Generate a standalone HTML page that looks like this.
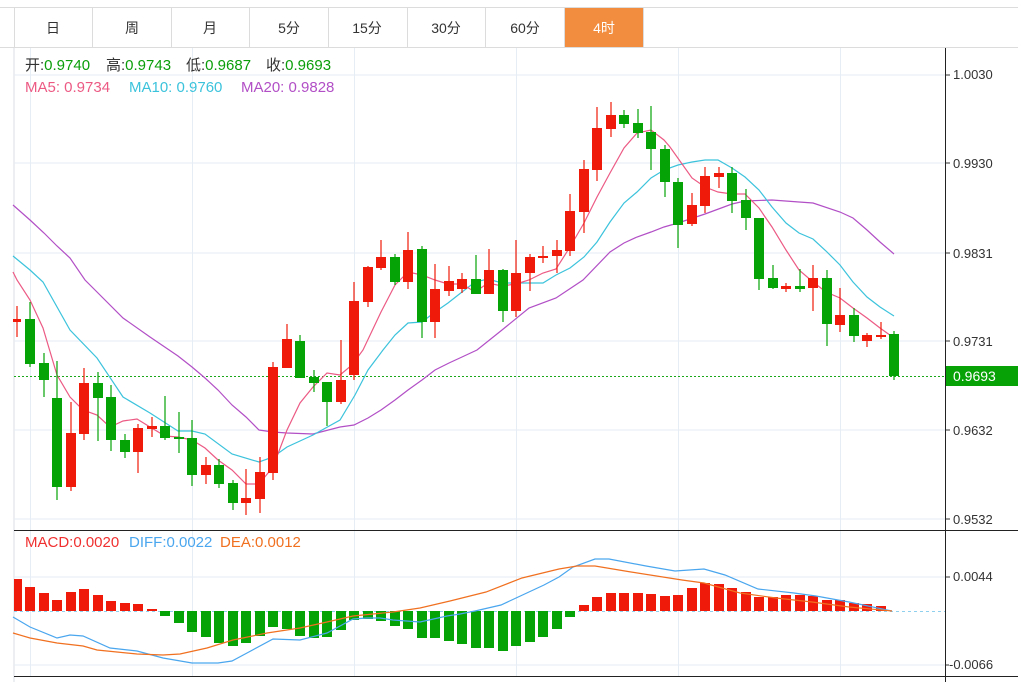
<!DOCTYPE html>
<html><head><meta charset="utf-8"><style>
html,body{margin:0;padding:0;background:#fff;}
body{width:1018px;height:682px;overflow:hidden;position:relative;font-family:"Liberation Sans","Noto Sans CJK SC",sans-serif;}
svg text{font-family:"Liberation Sans","Noto Sans CJK SC",sans-serif;}
</style></head><body>
<svg width="1018" height="682" viewBox="0 0 1018 682" xmlns="http://www.w3.org/2000/svg">
<line x1="0" y1="7.5" x2="1018" y2="7.5" stroke="#dcdcdc"/>
<line x1="0" y1="47.5" x2="1018" y2="47.5" stroke="#dcdcdc"/>
<g stroke="#dcdcdc">
<line x1="14.5" y1="7" x2="14.5" y2="48"/><line x1="92.5" y1="7" x2="92.5" y2="48"/><line x1="171.5" y1="7" x2="171.5" y2="48"/><line x1="249.5" y1="7" x2="249.5" y2="48"/><line x1="328.5" y1="7" x2="328.5" y2="48"/><line x1="407.5" y1="7" x2="407.5" y2="48"/><line x1="485.5" y1="7" x2="485.5" y2="48"/><line x1="564.5" y1="7" x2="564.5" y2="48"/><line x1="643.5" y1="7" x2="643.5" y2="48"/>
</g>
<rect x="565" y="8" width="78" height="39" fill="#f28c3e"/>
<g font-size="14" fill="#333" text-anchor="middle">
<text x="53" y="33">日</text><text x="132" y="33">周</text><text x="210" y="33">月</text><text x="289" y="33">5分</text><text x="367" y="33">15分</text><text x="446" y="33">30分</text><text x="525" y="33">60分</text><text x="604" y="33" fill="#fff">4时</text>
</g>
<line x1="14" y1="48" x2="14" y2="682" stroke="#d8dde3"/>
<g stroke="#e6edf4">
<line x1="14" y1="75" x2="945" y2="75"/><line x1="14" y1="163" x2="945" y2="163"/><line x1="14" y1="253" x2="945" y2="253"/><line x1="14" y1="341" x2="945" y2="341"/><line x1="14" y1="430" x2="945" y2="430"/><line x1="14" y1="519" x2="945" y2="519"/>
<line x1="14" y1="577" x2="945" y2="577"/><line x1="14" y1="665" x2="945" y2="665"/>
<line x1="30.5" y1="48" x2="30.5" y2="676"/><line x1="192.5" y1="48" x2="192.5" y2="676"/><line x1="354.5" y1="48" x2="354.5" y2="676"/><line x1="516.5" y1="48" x2="516.5" y2="676"/><line x1="678.5" y1="48" x2="678.5" y2="676"/><line x1="840.5" y1="48" x2="840.5" y2="676"/>
</g>
<line x1="14" y1="530.5" x2="1018" y2="530.5" stroke="#222"/>
<line x1="14" y1="676.5" x2="1018" y2="676.5" stroke="#222"/>
<line x1="945.5" y1="48" x2="945.5" y2="682" stroke="#222"/>
<g font-size="13" fill="#333">
<text x="953" y="79">1.0030</text><text x="953" y="168">0.9930</text><text x="953" y="258">0.9831</text><text x="953" y="346">0.9731</text><text x="953" y="435">0.9632</text><text x="953" y="524">0.9532</text>
<text x="953" y="581">0.0044</text><text x="949" y="669">-0.0066</text>
</g>
<g stroke="#333"><line x1="946" y1="75" x2="950" y2="75"/><line x1="946" y1="163" x2="950" y2="163"/><line x1="946" y1="253" x2="950" y2="253"/><line x1="946" y1="341" x2="950" y2="341"/><line x1="946" y1="430" x2="950" y2="430"/><line x1="946" y1="519" x2="950" y2="519"/><line x1="946" y1="577" x2="950" y2="577"/><line x1="946" y1="665" x2="949" y2="665"/></g>
<rect x="946" y="366" width="72" height="20" fill="#06a206"/>
<text x="953" y="381" font-size="14" fill="#fff">0.9693</text>
<line x1="14" y1="376.5" x2="945" y2="376.5" stroke="#1aa81a" stroke-dasharray="2,2"/>
<line x1="14" y1="611.5" x2="945" y2="611.5" stroke="#8fd0ee" stroke-dasharray="3,3"/>
<g font-size="15">
<text x="25" y="70" fill="#333">开:<tspan fill="#0a9e0a">0.9740</tspan></text>
<text x="106" y="70" fill="#333">高:<tspan fill="#0a9e0a">0.9743</tspan></text>
<text x="186" y="70" fill="#333">低:<tspan fill="#0a9e0a">0.9687</tspan></text>
<text x="266" y="70" fill="#333">收:<tspan fill="#0a9e0a">0.9693</tspan></text>
<text x="25" y="92" fill="#ec5a84">MA5: 0.9734</text>
<text x="129" y="92" fill="#3cc3dc">MA10: 0.9760</text>
<text x="241" y="92" fill="#b24fc6">MA20: 0.9828</text>
<text x="25" y="547" fill="#f03030">MACD:0.0020</text>
<text x="129" y="547" fill="#4aa6ee">DIFF:0.0022</text>
<text x="220" y="547" fill="#f07020">DEA:0.0012</text>
</g>
<g fill="none" stroke-width="1.2">
<polyline stroke="#b24fc6" points="13,205 30,220 44,233 57,246 70,258 85,280 97,292 123,318 150,337 178,356 192,367 205,378 218,390 232,405 246,417 259,430 273,432 287,433 313,434 340,427 354,425 368,418 381,410 395,400 408,390 422,380 435,370 449,363 462,357 477,350 502,330 529,308 556,298 583,280 610,252 624,243 637,237 651,232 664,227 678,223 705,214 732,204 745,201 772,200 799,202 813,203 840,212 853,218 867,230 880,242 894,254"/>
<polyline stroke="#3cc3dc" points="13,256 30,270 43,282 70,330 97,358 123,397 150,413 178,431 192,431 205,434 232,454 259,462 273,457 287,447 313,435 340,420 355,395 368,370 383,350 395,335 408,323 422,322 435,312 448,303 462,292 475,282 488,279 502,283 516,283 529,283 543,283 556,275 570,268 584,257 597,242 610,222 624,203 637,192 651,178 664,170 678,165 692,162 705,160 718,160 732,168 745,177 759,190 772,207 786,223 799,233 813,239 826,251 840,265 853,282 867,297 880,307 894,316"/>
<polyline stroke="#ec5a84" points="13,272 17,280 30,300 43,328 57,375 70,397 83,410 97,415 110,427 123,421 137,419 150,427 165,436 178,437 192,440 205,448 218,460 232,470 246,484 259,484 273,467 287,430 300,403 313,387 327,373 340,375 352,365 363,350 381,312 395,285 408,272 422,275 435,280 448,284 462,284 475,292 488,283 502,286 516,284 529,280 543,273 556,269 570,247 584,223 597,197 610,173 624,148 637,133 651,130 664,140 670,147 692,178 705,187 718,192 732,194 745,194 759,208 772,227 786,250 799,270 813,282 826,292 840,298 853,308 867,318 880,328 894,338"/>
</g>
<g stroke-width="1.2">
<line x1="17" y1="306" x2="17" y2="337" stroke="#f01a0a"/><rect x="13" y="319" width="8" height="3" fill="#f01a0a"/>
<line x1="30" y1="302" x2="30" y2="367" stroke="#05a305"/><rect x="25" y="319" width="10" height="45" fill="#05a305"/>
<line x1="44" y1="353" x2="44" y2="397" stroke="#05a305"/><rect x="39" y="363" width="10" height="17" fill="#05a305"/>
<line x1="57" y1="361" x2="57" y2="500" stroke="#05a305"/><rect x="52" y="398" width="10" height="89" fill="#05a305"/>
<line x1="71" y1="402" x2="71" y2="491" stroke="#f01a0a"/><rect x="66" y="433" width="10" height="54" fill="#f01a0a"/>
<line x1="84" y1="368" x2="84" y2="440" stroke="#f01a0a"/><rect x="79" y="383" width="10" height="51" fill="#f01a0a"/>
<line x1="98" y1="372" x2="98" y2="441" stroke="#05a305"/><rect x="93" y="383" width="10" height="15" fill="#05a305"/>
<line x1="111" y1="385" x2="111" y2="451" stroke="#05a305"/><rect x="106" y="397" width="10" height="43" fill="#05a305"/>
<line x1="125" y1="434" x2="125" y2="458" stroke="#05a305"/><rect x="120" y="440" width="10" height="12" fill="#05a305"/>
<line x1="138" y1="424" x2="138" y2="473" stroke="#f01a0a"/><rect x="133" y="428" width="10" height="24" fill="#f01a0a"/>
<line x1="152" y1="417" x2="152" y2="437" stroke="#f01a0a"/><rect x="147" y="426" width="10" height="3" fill="#f01a0a"/>
<line x1="165" y1="396" x2="165" y2="440" stroke="#05a305"/><rect x="160" y="426" width="10" height="12" fill="#05a305"/>
<line x1="179" y1="412" x2="179" y2="453" stroke="#05a305"/><rect x="174" y="437" width="10" height="2" fill="#05a305"/>
<line x1="192" y1="420" x2="192" y2="486" stroke="#05a305"/><rect x="187" y="438" width="10" height="37" fill="#05a305"/>
<line x1="206" y1="457" x2="206" y2="484" stroke="#f01a0a"/><rect x="201" y="465" width="10" height="10" fill="#f01a0a"/>
<line x1="219" y1="459" x2="219" y2="488" stroke="#05a305"/><rect x="214" y="465" width="10" height="19" fill="#05a305"/>
<line x1="233" y1="480" x2="233" y2="510" stroke="#05a305"/><rect x="228" y="483" width="10" height="20" fill="#05a305"/>
<line x1="246" y1="469" x2="246" y2="515" stroke="#f01a0a"/><rect x="241" y="498" width="10" height="5" fill="#f01a0a"/>
<line x1="260" y1="457" x2="260" y2="513" stroke="#f01a0a"/><rect x="255" y="472" width="10" height="27" fill="#f01a0a"/>
<line x1="273" y1="362" x2="273" y2="480" stroke="#f01a0a"/><rect x="268" y="367" width="10" height="106" fill="#f01a0a"/>
<line x1="287" y1="324" x2="287" y2="368" stroke="#f01a0a"/><rect x="282" y="339" width="10" height="29" fill="#f01a0a"/>
<line x1="300" y1="335" x2="300" y2="378" stroke="#05a305"/><rect x="295" y="341" width="10" height="37" fill="#05a305"/>
<line x1="314" y1="370" x2="314" y2="392" stroke="#05a305"/><rect x="309" y="377" width="10" height="6" fill="#05a305"/>
<line x1="327" y1="382" x2="327" y2="426" stroke="#05a305"/><rect x="322" y="382" width="10" height="20" fill="#05a305"/>
<line x1="341" y1="340" x2="341" y2="404" stroke="#f01a0a"/><rect x="336" y="380" width="10" height="22" fill="#f01a0a"/>
<line x1="354" y1="282" x2="354" y2="380" stroke="#f01a0a"/><rect x="349" y="301" width="10" height="74" fill="#f01a0a"/>
<line x1="368" y1="266" x2="368" y2="307" stroke="#f01a0a"/><rect x="363" y="267" width="10" height="35" fill="#f01a0a"/>
<line x1="381" y1="240" x2="381" y2="270" stroke="#f01a0a"/><rect x="376" y="257" width="10" height="11" fill="#f01a0a"/>
<line x1="395" y1="254" x2="395" y2="285" stroke="#05a305"/><rect x="390" y="257" width="10" height="25" fill="#05a305"/>
<line x1="408" y1="232" x2="408" y2="289" stroke="#f01a0a"/><rect x="403" y="250" width="10" height="32" fill="#f01a0a"/>
<line x1="422" y1="246" x2="422" y2="338" stroke="#05a305"/><rect x="417" y="249" width="10" height="73" fill="#05a305"/>
<line x1="435" y1="264" x2="435" y2="338" stroke="#f01a0a"/><rect x="430" y="289" width="10" height="33" fill="#f01a0a"/>
<line x1="449" y1="266" x2="449" y2="296" stroke="#f01a0a"/><rect x="444" y="281" width="10" height="10" fill="#f01a0a"/>
<line x1="462" y1="273" x2="462" y2="293" stroke="#f01a0a"/><rect x="457" y="279" width="10" height="10" fill="#f01a0a"/>
<line x1="476" y1="255" x2="476" y2="294" stroke="#05a305"/><rect x="471" y="279" width="10" height="15" fill="#05a305"/>
<line x1="489" y1="249" x2="489" y2="294" stroke="#f01a0a"/><rect x="484" y="270" width="10" height="24" fill="#f01a0a"/>
<line x1="503" y1="269" x2="503" y2="322" stroke="#05a305"/><rect x="498" y="270" width="10" height="41" fill="#05a305"/>
<line x1="516" y1="240" x2="516" y2="317" stroke="#f01a0a"/><rect x="511" y="273" width="10" height="38" fill="#f01a0a"/>
<line x1="530" y1="254" x2="530" y2="291" stroke="#f01a0a"/><rect x="525" y="257" width="10" height="16" fill="#f01a0a"/>
<line x1="543" y1="246" x2="543" y2="263" stroke="#f01a0a"/><rect x="538" y="256" width="10" height="2" fill="#f01a0a"/>
<line x1="557" y1="240" x2="557" y2="273" stroke="#f01a0a"/><rect x="552" y="250" width="10" height="6" fill="#f01a0a"/>
<line x1="570" y1="194" x2="570" y2="256" stroke="#f01a0a"/><rect x="565" y="211" width="10" height="40" fill="#f01a0a"/>
<line x1="584" y1="160" x2="584" y2="233" stroke="#f01a0a"/><rect x="579" y="169" width="10" height="43" fill="#f01a0a"/>
<line x1="597" y1="107" x2="597" y2="181" stroke="#f01a0a"/><rect x="592" y="128" width="10" height="42" fill="#f01a0a"/>
<line x1="611" y1="102" x2="611" y2="137" stroke="#f01a0a"/><rect x="606" y="115" width="10" height="14" fill="#f01a0a"/>
<line x1="624" y1="110" x2="624" y2="128" stroke="#05a305"/><rect x="619" y="115" width="10" height="9" fill="#05a305"/>
<line x1="638" y1="109" x2="638" y2="138" stroke="#05a305"/><rect x="633" y="123" width="10" height="10" fill="#05a305"/>
<line x1="651" y1="106" x2="651" y2="170" stroke="#05a305"/><rect x="646" y="132" width="10" height="17" fill="#05a305"/>
<line x1="665" y1="145" x2="665" y2="197" stroke="#05a305"/><rect x="660" y="149" width="10" height="33" fill="#05a305"/>
<line x1="678" y1="178" x2="678" y2="248" stroke="#05a305"/><rect x="673" y="182" width="10" height="43" fill="#05a305"/>
<line x1="692" y1="193" x2="692" y2="226" stroke="#f01a0a"/><rect x="687" y="205" width="10" height="19" fill="#f01a0a"/>
<line x1="705" y1="167" x2="705" y2="213" stroke="#f01a0a"/><rect x="700" y="176" width="10" height="30" fill="#f01a0a"/>
<line x1="719" y1="167" x2="719" y2="188" stroke="#f01a0a"/><rect x="714" y="173" width="10" height="4" fill="#f01a0a"/>
<line x1="732" y1="167" x2="732" y2="213" stroke="#05a305"/><rect x="727" y="173" width="10" height="28" fill="#05a305"/>
<line x1="746" y1="189" x2="746" y2="230" stroke="#05a305"/><rect x="741" y="200" width="10" height="18" fill="#05a305"/>
<line x1="759" y1="218" x2="759" y2="290" stroke="#05a305"/><rect x="754" y="218" width="10" height="61" fill="#05a305"/>
<line x1="773" y1="265" x2="773" y2="289" stroke="#05a305"/><rect x="768" y="278" width="10" height="10" fill="#05a305"/>
<line x1="786" y1="283" x2="786" y2="292" stroke="#f01a0a"/><rect x="781" y="286" width="10" height="3" fill="#f01a0a"/>
<line x1="800" y1="269" x2="800" y2="292" stroke="#05a305"/><rect x="795" y="286" width="10" height="3" fill="#05a305"/>
<line x1="813" y1="265" x2="813" y2="311" stroke="#f01a0a"/><rect x="808" y="278" width="10" height="10" fill="#f01a0a"/>
<line x1="827" y1="270" x2="827" y2="346" stroke="#05a305"/><rect x="822" y="278" width="10" height="46" fill="#05a305"/>
<line x1="840" y1="288" x2="840" y2="332" stroke="#f01a0a"/><rect x="835" y="315" width="10" height="10" fill="#f01a0a"/>
<line x1="854" y1="308" x2="854" y2="342" stroke="#05a305"/><rect x="849" y="315" width="10" height="21" fill="#05a305"/>
<line x1="867" y1="333" x2="867" y2="347" stroke="#f01a0a"/><rect x="862" y="335" width="10" height="6" fill="#f01a0a"/>
<line x1="881" y1="322" x2="881" y2="339" stroke="#f01a0a"/><rect x="876" y="335" width="10" height="2" fill="#f01a0a"/>
<line x1="894" y1="331" x2="894" y2="380" stroke="#05a305"/><rect x="889" y="334" width="10" height="42" fill="#05a305"/>
</g>
<g fill="#f01a0a">
<rect x="14" y="579" width="8" height="32"/><rect x="25" y="587" width="10" height="24"/><rect x="39" y="593" width="10" height="18"/><rect x="52" y="600" width="10" height="11"/><rect x="66" y="592" width="10" height="19"/><rect x="79" y="589" width="10" height="22"/><rect x="93" y="595" width="10" height="16"/><rect x="106" y="601" width="10" height="10"/><rect x="120" y="603" width="10" height="8"/><rect x="133" y="604" width="10" height="7"/><rect x="147" y="609" width="10" height="2"/>
<rect x="579" y="605" width="10" height="6"/><rect x="592" y="597" width="10" height="14"/><rect x="606" y="593" width="10" height="18"/><rect x="619" y="593" width="10" height="18"/><rect x="633" y="593" width="10" height="18"/><rect x="646" y="594" width="10" height="17"/><rect x="660" y="596" width="10" height="15"/><rect x="673" y="595" width="10" height="16"/><rect x="687" y="588" width="10" height="23"/><rect x="700" y="583" width="10" height="28"/><rect x="714" y="584" width="10" height="27"/><rect x="727" y="588" width="10" height="23"/><rect x="741" y="592" width="10" height="19"/><rect x="754" y="597" width="10" height="14"/><rect x="768" y="597" width="10" height="14"/><rect x="781" y="595" width="10" height="16"/><rect x="795" y="595" width="10" height="16"/><rect x="808" y="596" width="10" height="15"/><rect x="822" y="600" width="10" height="11"/><rect x="835" y="600" width="10" height="11"/><rect x="849" y="603" width="10" height="8"/><rect x="862" y="604" width="10" height="7"/><rect x="876" y="606" width="10" height="5"/>
</g>
<g fill="#05a305">
<rect x="160" y="611" width="10" height="5"/><rect x="174" y="611" width="10" height="12"/><rect x="187" y="611" width="10" height="21"/><rect x="201" y="611" width="10" height="26"/><rect x="214" y="611" width="10" height="32"/><rect x="228" y="611" width="10" height="35"/><rect x="241" y="611" width="10" height="32"/><rect x="255" y="611" width="10" height="25"/><rect x="268" y="611" width="10" height="16"/><rect x="282" y="611" width="10" height="18"/><rect x="295" y="611" width="10" height="25"/><rect x="309" y="611" width="10" height="27"/><rect x="322" y="611" width="10" height="26"/><rect x="336" y="611" width="10" height="19"/><rect x="349" y="611" width="10" height="9"/><rect x="363" y="611" width="10" height="8"/><rect x="376" y="611" width="10" height="10"/><rect x="390" y="611" width="10" height="15"/><rect x="403" y="611" width="10" height="18"/><rect x="417" y="611" width="10" height="27"/><rect x="430" y="611" width="10" height="27"/><rect x="444" y="611" width="10" height="30"/><rect x="457" y="611" width="10" height="33"/><rect x="471" y="611" width="10" height="37"/><rect x="484" y="611" width="10" height="37"/><rect x="498" y="611" width="10" height="40"/><rect x="511" y="611" width="10" height="35"/><rect x="525" y="611" width="10" height="31"/><rect x="538" y="611" width="10" height="26"/><rect x="552" y="611" width="10" height="18"/><rect x="565" y="611" width="10" height="6"/>
</g>
<g fill="none" stroke-width="1.2">
<polyline stroke="#4aa6ee" points="13,617 30,627 57,638 70,635 83,636 110,648 137,651 163,658 192,663 218,663 232,661 247,653 273,639 300,640 327,633 353,619 367,618 380,618 393,620 420,622 447,616 460,614 475,611 501,605 544,585 559,577 573,567 595,559 609,559 646,566 675,571 704,569 725,575 758,589 794,593 816,596 849,602 892,611"/>
<polyline stroke="#f07020" points="13,633 30,638 57,643 83,646 97,650 137,654 163,655 180,654 207,648 233,640 267,633 300,628 327,622 353,616 393,612 420,608 450,601 486,592 522,578 559,569 577,566 595,566 631,572 682,580 704,583 740,593 776,598 812,602 849,607 892,611"/>
</g>
</svg>
</body></html>
